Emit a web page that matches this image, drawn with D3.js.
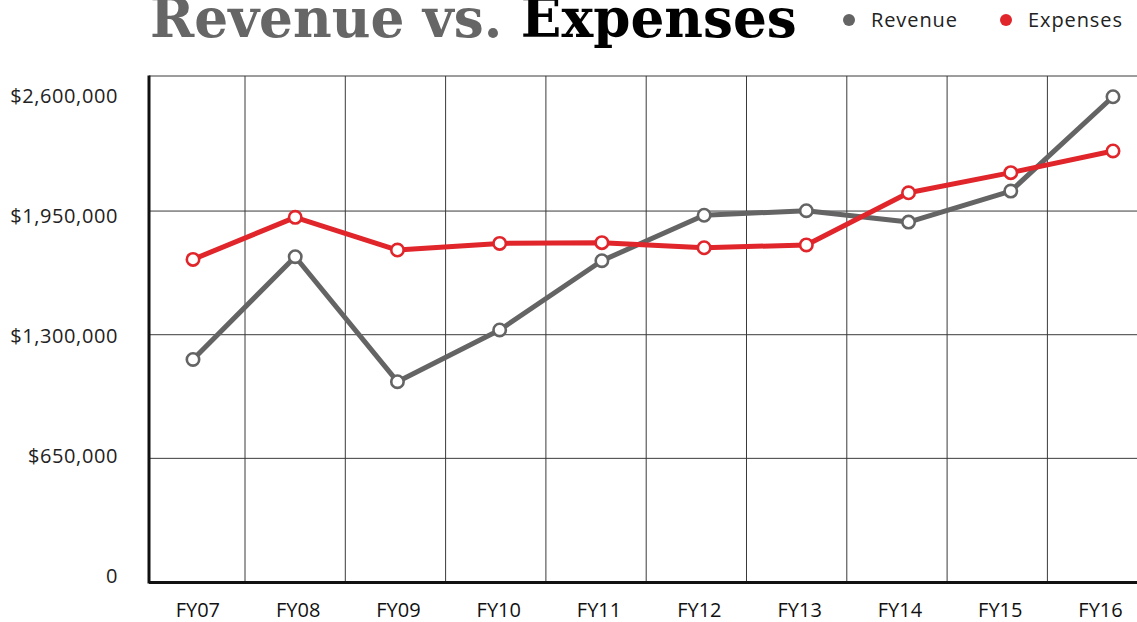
<!DOCTYPE html>
<html>
<head>
<meta charset="utf-8">
<script src="https://cdn.jsdelivr.net/npm/d3@7"></script>
<style>
  body { margin: 0; background: #fff; }
  svg { display: block; }
</style>
</head>
<body>
<svg id="chart"></svg>
<script>
// data
const years = ["FY07", "FY08", "FY09", "FY10", "FY11", "FY12", "FY13", "FY14", "FY15", "FY16"];
const revenue = [1170000, 1710000, 1053000, 1325000, 1689000, 1928000, 1952000, 1892000, 2055000, 2551000];
const expenses = [1696000, 1917000, 1745000, 1780000, 1784000, 1757000, 1772000, 2046000, 2152000, 2266000];
const yTicks = [0, 650000, 1300000, 1950000, 2600000];
const seriesNames = ["Revenue", "Expenses"];
const seriesColors = ["#646464", "#e0252b"];

const width = 1137, height = 622;
const svg = d3.select("#chart").attr("width", width).attr("height", height);

const plotL = 149, plotR = 1137, plotT = 76, plotB = 582;

// scales
const y = d3.scaleLinear().domain([0, 2660000]).range([plotB, plotT]);
const yLabel = d3.scaleLinear().domain([0, 2600000]).range([576, 96]);
const xBand = d3.scaleBand().domain(years).range([144.7, 1147.7]);
const x = d3.scalePoint().domain(years).range([193, 1113]);

// grid
const grid = svg.append("g");
grid.selectAll(".hgrid")
  .data(yTicks.slice(1, 4))
  .join("line")
  .attr("x1", plotL).attr("x2", plotR)
  .attr("y1", d => y(d)).attr("y2", d => y(d))
  .attr("stroke", "#3a3a3a").attr("stroke-width", 1);
grid.append("line")
  .attr("x1", plotL).attr("x2", plotR)
  .attr("y1", y(2660000)).attr("y2", y(2660000))
  .attr("stroke", "#3a3a3a").attr("stroke-width", 1);
grid.selectAll(".vgrid")
  .data(years.slice(1))
  .join("line")
  .attr("x1", d => xBand(d)).attr("x2", d => xBand(d))
  .attr("y1", plotT).attr("y2", plotB)
  .attr("stroke", "#3a3a3a").attr("stroke-width", 1);

// axis lines
svg.append("line")
  .attr("x1", plotL).attr("x2", plotL).attr("y1", plotT - 0.5).attr("y2", plotB + 1.5)
  .attr("stroke", "#111").attr("stroke-width", 3);
svg.append("line")
  .attr("x1", plotL).attr("x2", plotR).attr("y1", plotB + 0.5).attr("y2", plotB + 0.5)
  .attr("stroke", "#111").attr("stroke-width", 3);

// y labels
svg.selectAll(".ylab")
  .data(yTicks)
  .join("text")
  .attr("x", 118)
  .attr("y", d => yLabel(d))
  .attr("dy", "0.36em")
  .attr("text-anchor", "end")
  .attr("font-family", "Open Sans")
  .attr("font-size", 20)
  .attr("letter-spacing", 0.6)
  .attr("fill", "#222")
  .text(d => d === 0 ? "0" : "$" + d3.format(",")(d));

// x labels
svg.selectAll(".xlab")
  .data(years)
  .join("text")
  .attr("x", d => xBand(d) + xBand.bandwidth() / 2 + 3)
  .attr("y", 617)
  .attr("text-anchor", "middle")
  .attr("font-family", "Open Sans")
  .attr("font-size", 20)
  .attr("fill", "#111")
  .text(d => d);

// lines + markers
const series = [revenue, expenses];
const line = d3.line().x((d, i) => x(years[i])).y(d => y(d));
series.forEach((vals, s) => {
  svg.append("path")
    .datum(vals)
    .attr("fill", "none")
    .attr("stroke", seriesColors[s])
    .attr("stroke-width", 5)
    .attr("stroke-linejoin", "round")
    .attr("d", line);
  svg.selectAll(".pt" + s)
    .data(vals)
    .join("circle")
    .attr("cx", (d, i) => x(years[i]))
    .attr("cy", d => y(d))
    .attr("r", 6.2)
    .attr("fill", "#fff")
    .attr("stroke", seriesColors[s])
    .attr("stroke-width", 2.6);
});

// title
const title = svg.append("text")
  .attr("x", 150).attr("y", 37)
  .attr("font-family", "DejaVu Serif")
  .attr("font-weight", "bold")
  .attr("font-size", 50);
title.append("tspan").attr("fill", "#666").text("Revenue vs. ");
title.append("tspan").attr("fill", "#000").text("Expenses");
const tw = title.node().getComputedTextLength();
title.attr("font-size", 50 * 647 / tw);

// legend
const legend = svg.append("g");
const legX = [849, 1006];
seriesNames.forEach((name, i) => {
  legend.append("circle")
    .attr("cx", legX[i]).attr("cy", 20).attr("r", 6)
    .attr("fill", seriesColors[i]);
  legend.append("text")
    .attr("x", legX[i] + 22).attr("y", 27)
    .attr("font-family", "Open Sans")
    .attr("font-size", 20)
    .attr("letter-spacing", 0.9)
    .attr("fill", "#222")
    .text(name);
});
</script>
</body>
</html>
